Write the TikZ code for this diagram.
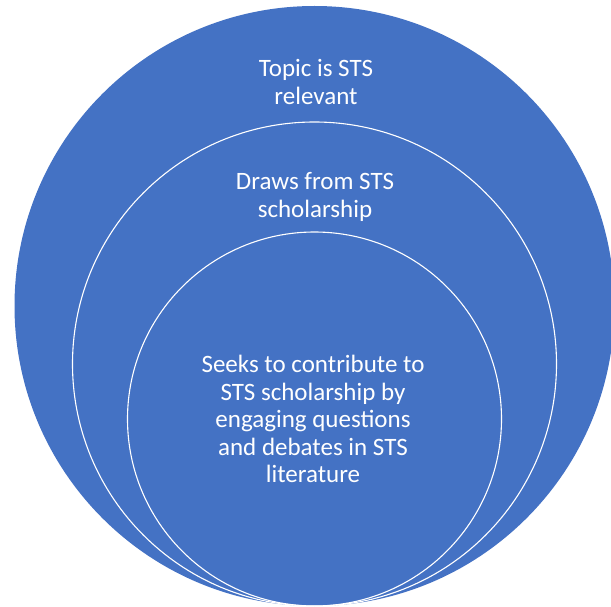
\documentclass[tikz,border=0pt]{standalone}
\usepackage{fontspec}
\setmainfont{Carlito}
\usetikzlibrary{calc}
\definecolor{stsblue}{HTML}{4472C4}

\begin{document}
\begin{tikzpicture}[x=1pt,y=-1pt,
  ring/.style={draw=white, line width=1.1pt},
  label/.style={text=white, align=center, font=\fontsize{25}{27.5}\selectfont}]
\useasboundingbox (0,0) rectangle (611,607);
\clip (0,0) rectangle (611,607);
\fill[stsblue] (314.5,306) circle (300);
\draw[ring] (314.5,364) circle (242);
\draw[ring] (314.5,419) circle (187);
\node[label] (topic) at (316,82) {Topic is STS\\relevant};
\node[label] (draws) at (315,197) {Draws from STS\\scholarship};
\node[label] (seeks) at (313,419) {Seeks to contribute to\\STS scholarship by\\engaging questions\\and debates in STS\\literature};
\end{tikzpicture}
\end{document}
